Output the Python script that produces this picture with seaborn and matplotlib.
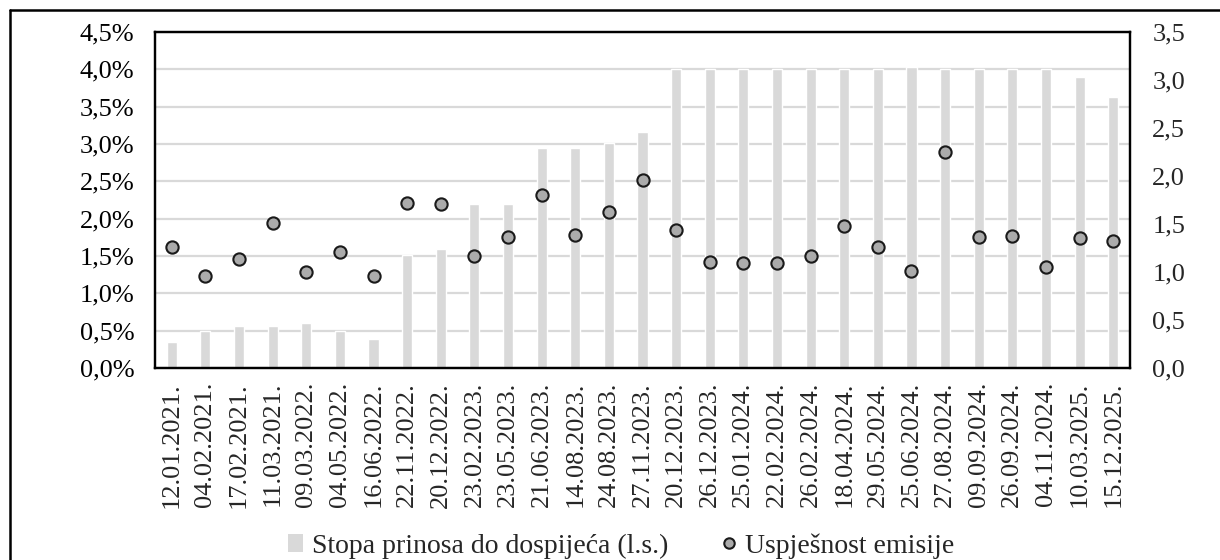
import numpy as np
import pandas as pd
import matplotlib
matplotlib.use("Agg")
import matplotlib.pyplot as plt
from matplotlib.lines import Line2D
from matplotlib.patches import Patch
from matplotlib.ticker import FuncFormatter
import seaborn as sns

dates = ["12.01.2021.", "04.02.2021.", "17.02.2021.", "11.03.2021.", "09.03.2022.",
         "04.05.2022.", "16.06.2022.", "22.11.2022.", "20.12.2022.", "23.02.2023.",
         "23.05.2023.", "21.06.2023.", "14.08.2023.", "24.08.2023.", "27.11.2023.",
         "20.12.2023.", "26.12.2023.", "25.01.2024.", "22.02.2024.", "26.02.2024.",
         "18.04.2024.", "29.05.2024.", "25.06.2024.", "27.08.2024.", "09.09.2024.",
         "26.09.2024.", "04.11.2024.", "10.03.2025.", "15.12.2025."]

yield_pct = [0.35, 0.50, 0.56, 0.56, 0.60, 0.50, 0.39, 1.51, 1.59, 2.19,
             2.19, 2.95, 2.95, 3.01, 3.16, 4.00, 4.00, 4.00, 4.00, 4.00,
             4.00, 4.00, 4.03, 4.00, 4.00, 4.00, 4.00, 3.90, 3.63]

success = [1.26, 0.96, 1.14, 1.51, 1.00, 1.21, 0.96, 1.72, 1.71, 1.17,
           1.36, 1.80, 1.39, 1.63, 1.96, 1.44, 1.10, 1.09, 1.09, 1.17,
           1.48, 1.26, 1.01, 2.25, 1.36, 1.37, 1.05, 1.35, 1.32]

legend_labels = ["Stopa prinosa do dospijeća (l.s.)", "Uspješnost emisije"]

left_ticks = [0.0, 0.5, 1.0, 1.5, 2.0, 2.5, 3.0, 3.5, 4.0, 4.5]
right_ticks = [0.0, 0.5, 1.0, 1.5, 2.0, 2.5, 3.0, 3.5]

sns.set_style("white")
plt.rcParams["font.family"] = ["Liberation Serif", "DejaVu Serif"]

W, H = 1220, 560
fig = plt.figure(figsize=(W / 100, H / 100), dpi=100)
ax = fig.add_axes([155 / W, 1 - 368 / H, (1130 - 155) / W, (368 - 32) / H])

df = pd.DataFrame({"date": dates, "yield": yield_pct, "success": success})
bar_color = "#D9D9D9"
sns.barplot(data=df, x="date", y="yield", color=bar_color, saturation=1,
            width=0.3, ax=ax, zorder=2)

ax.set_ylim(0, 4.5)
ax.set_yticks(left_ticks)
ax.yaxis.set_major_formatter(FuncFormatter(lambda v, p: f"{v:.1f}%".replace(".", ",")))
ax.yaxis.grid(True, color="#D9D9D9", lw=1.6, zorder=0)
ax.xaxis.grid(False)
ax.set_axisbelow(True)
ax.set_xlabel("")
ax.set_ylabel("")
ax.set_xlim(-0.5, len(dates) - 0.5)

fs = 19
ax.tick_params(axis="y", length=0, pad=15, labelsize=fs, colors="#000000")
ax.tick_params(axis="x", length=0, pad=10, labelsize=fs, labelrotation=90)
for lab in ax.get_xticklabels():
    lab.set_verticalalignment("top")

ax2 = ax.twinx()
sns.scatterplot(x=np.arange(len(dates)), y=df["success"], ax=ax2, s=78,
                color="#ABABAB", edgecolor="#1A1A1A", linewidth=1.5, zorder=5,
                legend=False)
ax2.set_ylim(0, 3.5)
ax2.set_yticks(right_ticks)
ax2.yaxis.set_major_formatter(FuncFormatter(lambda v, p: f"{v:.1f}".replace(".", ",")))
ax2.tick_params(axis="y", length=0, pad=16, labelsize=fs)
ax2.set_ylabel("")
ax2.grid(False)

for a in (ax, ax2):
    for sp in a.spines.values():
        sp.set_visible(True)
        sp.set_color("#000000")
        sp.set_linewidth(1.6)

handles = [
    Patch(facecolor=bar_color, edgecolor="none"),
    Line2D([], [], marker="o", linestyle="none", markersize=7.5,
           markerfacecolor="#ABABAB", markeredgecolor="#1A1A1A", markeredgewidth=1.5),
]
fig.legend(handles, legend_labels, loc="center", ncol=2, frameon=False,
           bbox_to_anchor=(621 / W, 1 - 546 / H), fontsize=20,
           handlelength=0.55, handleheight=0.6, handletextpad=0.3, columnspacing=1.9,
           borderpad=0.1)

# outer frame (top and left edges visible in the picture)
fig.add_artist(Line2D([10 / W, 1.0], [1 - 10 / H, 1 - 10 / H], transform=fig.transFigure,
                      color="#000000", lw=1.8))
fig.add_artist(Line2D([10 / W, 10 / W], [0.0, 1 - 10 / H], transform=fig.transFigure,
                      color="#000000", lw=1.8))

fig.savefig("out.png", dpi=100)
